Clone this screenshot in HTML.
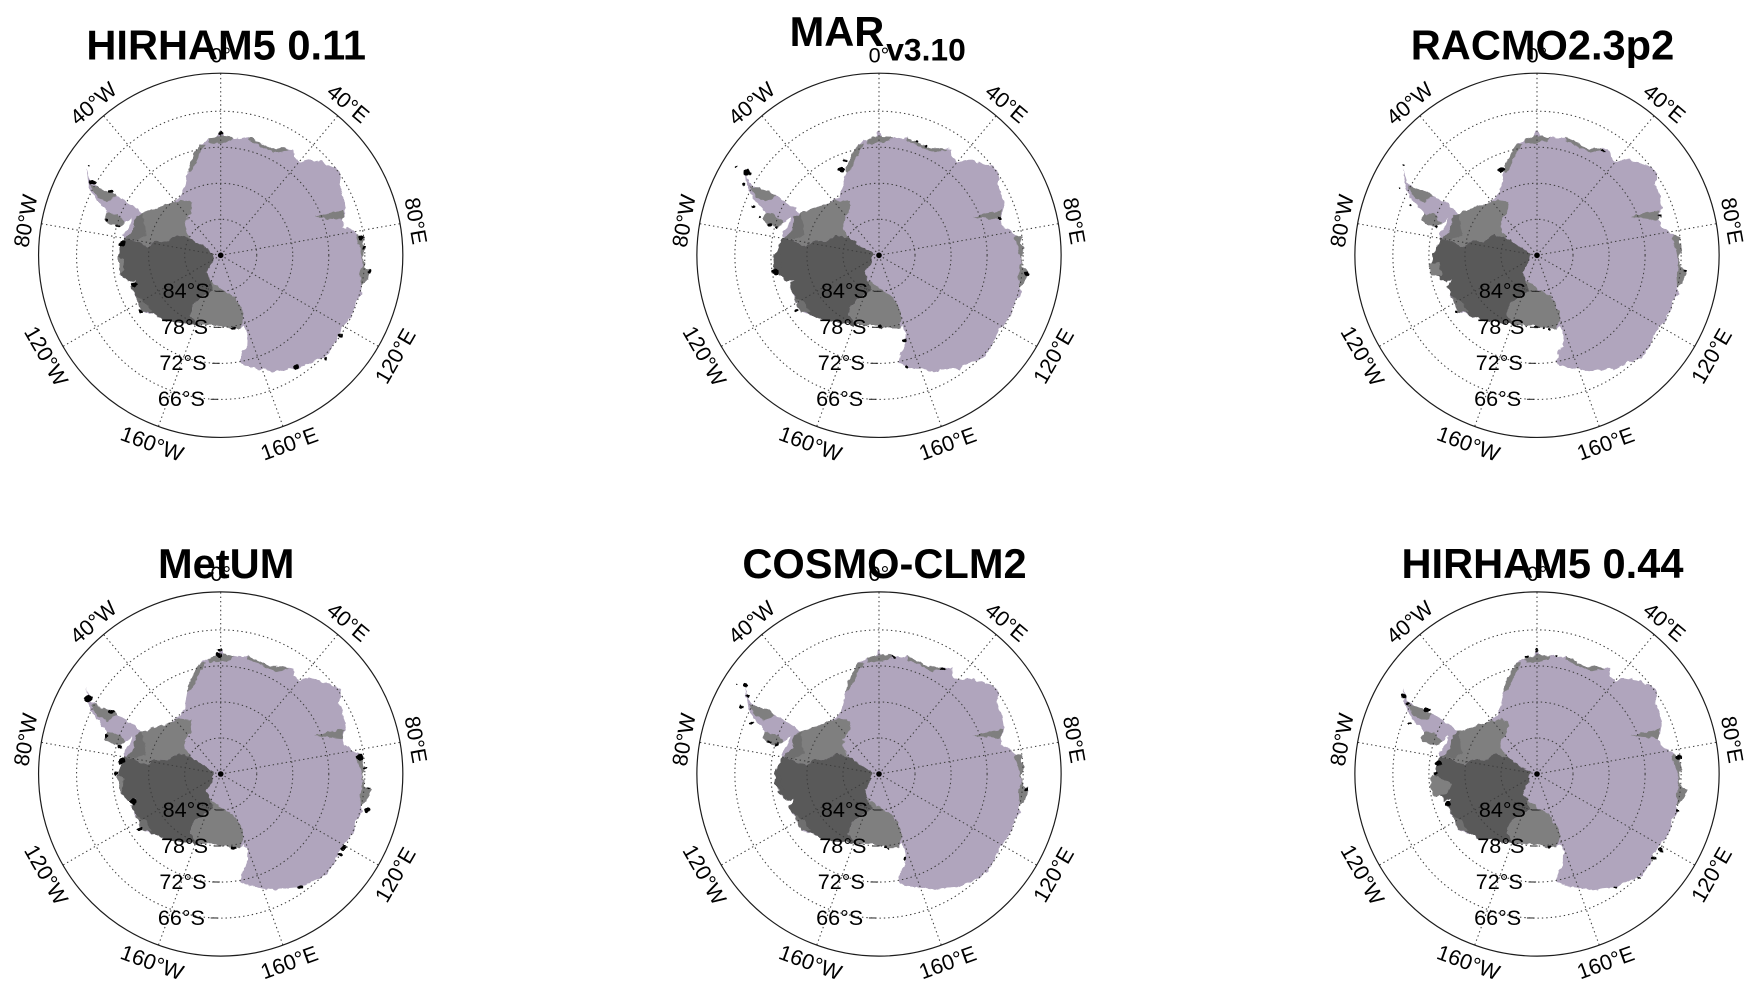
<!DOCTYPE html>
<html lang="en">
<head>
<meta charset="utf-8">
<title>Antarctic drainage basins by regional climate model</title>
<style>
html,body{margin:0;padding:0;background:#fff;width:1759px;height:994px;overflow:hidden}
svg{display:block}
text{font-family:"Liberation Sans",Arial,sans-serif;fill:#000}
.title{font-weight:bold;font-size:41.6px;text-anchor:middle}
.tick{font-size:21.6px}
.grid{fill:none;stroke:#3c3c3c;stroke-width:1.05;stroke-dasharray:1.4 3}
</style>
</head>
<body>
<svg id="chart" width="1759" height="994" viewBox="0 0 1759 994" xmlns="http://www.w3.org/2000/svg">
<defs>
<filter id="rough-coast" filterUnits="userSpaceOnUse" x="0" y="0" width="1759" height="994" color-interpolation-filters="sRGB">
<feTurbulence type="fractalNoise" baseFrequency="0.16" numOctaves="2" seed="7" result="noise"/>
<feDisplacementMap in="SourceGraphic" in2="noise" scale="5" xChannelSelector="R" yChannelSelector="G"/>
</filter>
</defs>
</svg>
<script>
// ---------- chart data ----------
const panelTitles = ["HIRHAM5 0.11", "MAR v3.10", "RACMO2.3p2", "MetUM", "COSMO-CLM2", "HIRHAM5 0.44"];
const latitudeTicks = [-84, -78, -72, -66];
const longitudeTicks = [0, 40, 80, 120, 160, -160, -120, -80, -40];
const outerLatitude = -59.67;

// Map-grid coordinates: x east, y north of the pole, 18 units per degree of arc
const continentOutline = [[-120,176],[-108,206],[-100,246],[-94,276],[-80,301],[-62,334],[-35,346],[-10,356],[0,376],[8,358],[40,354],[62,350],[85,354],[100,346],[125,334],[150,321],[190,321],[218,316],[220,296],[235,279],[265,288],[300,280],[330,269],[355,256],[360,236],[355,216],[368,176],[375,141],[365,106],[370,86],[390,76],[410,61],[430,54],[425,36],[435,16],[425,-4],[430,-34],[450,-49],[435,-84],[420,-94],[425,-114],[405,-139],[400,-169],[380,-199],[360,-224],[350,-244],[340,-269],[315,-304],[280,-319],[240,-339],[200,-342],[165,-349],[130,-342],[85,-336],[58,-322],[65,-289],[78,-274],[80,-234],[70,-209],[60,-219],[30,-219],[-20,-209],[-70,-209],[-120,-202],[-170,-194],[-200,-179],[-235,-169],[-245,-149],[-260,-114],[-270,-94],[-255,-74],[-275,-79],[-300,-59],[-308,-4],[-295,41],[-288,51],[-295,61],[-275,85],[-265,113],[-285,96],[-305,86],[-335,94],[-350,106],[-340,126],[-355,146],[-375,166],[-392,196],[-398,226],[-402,261],[-390,221],[-370,204],[-330,191],[-290,166],[-250,141],[-238,126],[-180,146],[-145,158]];
const filchnerRonneBasin = [[-255,116],[-238,126],[-180,146],[-145,158],[-120,166],[-85,161],[-90,126],[-108,101],[-105,76],[-90,51],[-130,61],[-160,41],[-195,44],[-220,26],[-265,46],[-285,51],[-260,76]];
const ronneInnerBasin = [[-255,116],[-235,125],[-228,90],[-225,60],[-255,45],[-285,51],[-260,76]];
const westAntarcticBasin = [[-288,51],[-265,46],[-220,26],[-195,44],[-160,41],[-130,61],[-90,51],[-60,31],[-20,6],[-25,-24],[-42,-49],[-35,-74],[-10,-94],[-20,-104],[-60,-129],[-85,-149],[-90,-179],[-70,-209],[-120,-202],[-170,-194],[-200,-179],[-220,-170],[-245,-135],[-260,-114],[-270,-94],[-255,-74],[-275,-79],[-300,-59],[-308,-4],[-295,41]];
const rossBasin = [[-35,-74],[0,-99],[40,-124],[65,-164],[68,-184],[60,-219],[30,-219],[-20,-209],[-70,-209],[-90,-179],[-85,-149],[-60,-129],[-20,-104]];
const marieByrdCoast = [[-255,-124],[-225,-140],[-205,-170],[-235,-169],[-245,-149]];
const dronningMaudCoast = [[-35,346],[-10,356],[8,358],[40,354],[30,343],[0,336],[-35,334]];
const enderbyCoast = [[85,354],[100,346],[125,334],[150,321],[190,321],[205,315],[160,308],[130,322],[105,335],[85,342]];
const coatsLandCoast = [[-62,334],[-80,301],[-94,276],[-100,246],[-90,250],[-75,278],[-60,310],[-45,334]];
const ameryBasin = [[280,116],[325,126],[370,135],[365,106],[325,110]];
const wilkesCoast = [[410,61],[430,54],[425,36],[435,16],[425,-4],[430,-34],[450,-49],[435,-84],[420,-94],[418,-60],[425,-20],[418,20],[405,50]];
const larsenCoast = [[-390,210],[-370,204],[-330,191],[-310,178],[-340,160],[-370,175]];
const georgeSixthCoast = [[-350,106],[-340,126],[-310,122],[-285,96],[-305,86],[-335,94]];

// Model-specific additions to the west coast
const westCoastDark = [
  [],
  [[-318,-5],[-315,-50],[-290,-62],[-295,30]],
  [[-300,30],[-312,5],[-315,-25],[-290,-30]],
  [],
  [[-305,20],[-314,0],[-312,-28],[-285,-50]],
  []
];
const westCoastGray = [
  [[-308,-4],[-290,-10],[-292,-50],[-300,-59]],
  [],
  [[-322,-25],[-318,-60],[-285,-62],[-295,-20]],
  [[-308,-4],[-290,-10],[-292,-50],[-300,-59]],
  [],
  [[-316,-3],[-321,-38],[-306,-68],[-266,-58],[-256,-28],[-296,-8]]
];
// Negative-anomaly spots for each model: x, y, extent in map-grid units
const spotsHirham011 = [[-385,218,6],[-330,194,5],[-295,36,6],[-260,-86,6],[0,366,4],[420,54,5],[430,21,4],[445,-49,4],[360,-239,5],[315,-309,3],[225,-334,5],[-240,-169,4],[40,-219,4],[-340,106,4],[-310,86,3],[-395,271,2]];
const spotsMar = [[-395,248,7],[-407,211,3],[-377,146,4],[-357,116,3],[-327,91,4],[-307,86,3],[-112,256,7],[-102,286,3],[363,111,4],[443,-54,5],[-312,-49,7],[-247,-164,4],[3,-214,5],[78,-254,4],[83,-334,3],[143,326,3],[113,341,3],[-429,266,2]];
const spotsRacmo = [[-106,256,6],[-411,201,2],[-381,151,3],[-301,86,3],[444,-49,3],[369,116,3],[199,313,3],[-1,-216,3],[19,-219,3],[39,-222,3],[-241,-169,3],[-400,270,2]];
const spotsMetum = [[-397,227,8],[-327,187,5],[-302,82,5],[-297,40,7],[-312,2,3],[-262,-83,6],[-242,-166,5],[-2,372,4],[-7,357,5],[418,50,7],[433,17,3],[438,-108,5],[443,-43,2],[368,-223,6],[358,-243,5],[238,-340,5],[38,-223,5],[-342,112,4]];
const spotsCosmo = [[-399,267,5],[-392,232,3],[-412,202,3],[-382,152,4],[-307,87,4],[-327,97,3],[443,-46,4],[23,-220,3],[193,314,4],[78,-253,3],[43,352,3],[-430,268,2]];
const spotsHirham044 = [[-401,232,5],[-386,212,3],[-331,192,6],[-381,152,3],[-296,32,6],[-306,2,4],[-266,-88,6],[-1,372,4],[-31,352,3],[59,354,3],[424,52,6],[424,-108,3],[369,-228,5],[349,-253,4],[309,-313,3],[234,-340,3],[39,-218,3]];
const panelSpots = [spotsHirham011, spotsMar, spotsRacmo, spotsMetum, spotsCosmo, spotsHirham044];

// ---------- layout ----------
const columnCenters = [220.7, 879, 1537];
const rowCenters = [255.3, 774];
const rowTitleBaselines = [59.3, 578];
const titleOffset = 5.5;
const pxPerDegree = 6.005;
const mapUnitsPerDegree = 18;
const spotScale = 1.6;
const latTickLongitude = -177.5;
const SVGNS = "http://www.w3.org/2000/svg";
const svg = document.getElementById("chart");

// ---------- axis functions ----------
function radiusOf(lat) { return (90 + lat) * pxPerDegree; }
function polar(cx, cy, lat, lon) {
  const r = radiusOf(lat), a = lon * Math.PI / 180;
  return [cx + r * Math.sin(a), cy - r * Math.cos(a)];
}
function mapX(cx, x) { return cx + x / mapUnitsPerDegree * pxPerDegree; }
function mapY(cy, y) { return cy - y / mapUnitsPerDegree * pxPerDegree; }
function pointsAttr(cx, cy, pts) {
  return pts.map(function (p) { return mapX(cx, p[0]).toFixed(1) + "," + mapY(cy, p[1]).toFixed(1); }).join(" ");
}
function make(tag, attrs, parent, content) {
  const el = document.createElementNS(SVGNS, tag);
  for (const k in attrs) el.setAttribute(k, attrs[k]);
  if (content !== undefined) el.textContent = content;
  parent.appendChild(el);
  return el;
}
function basin(parent, cx, cy, pts, fill, name) {
  if (!pts.length) return;
  const el = make("polygon", { points: pointsAttr(cx, cy, pts), fill: fill }, parent);
  
  
}
function lonLabel(lon) {
  if (lon === 0) return "0°";
  return Math.abs(lon) + "°" + (lon > 0 ? "E" : "W");
}

// ---------- drawing ----------
panelTitles.forEach(function (title, i) {
  const col = i % 3, row = Math.floor(i / 3);
  const cx = columnCenters[col], cy = rowCenters[row];
  const slug = title.toLowerCase().replace(/[^a-z0-9]+/g, "-");

  const g = make("g", {}, svg);
  
  

  if (title === "MAR v3.10") {
    const t1 = make("text", { class: "title", x: cx - 88 + 46, y: 45.8 }, g, "MAR");
    
    
    const t2 = make("text", { class: "title", x: cx + 47, y: 60.7, style: "font-size:31.8px" }, g, "v3.10");
    
    
  } else {
    const t = make("text", { class: "title", x: cx + titleOffset, y: rowTitleBaselines[row] }, g, title);
    
    
  }

  const map = make("g", { filter: "url(#rough-coast)" }, g);
  
  
  basin(map, cx, cy, continentOutline, "#b0a5bd", "east-antarctic-basin");
  basin(map, cx, cy, filchnerRonneBasin, "#7f7f7f", "filchner-ronne-basin");
  basin(map, cx, cy, ronneInnerBasin, "#6f6f6f", "ronne-inner-basin");
  basin(map, cx, cy, westAntarcticBasin, "#595959", "west-antarctic-basin");
  basin(map, cx, cy, rossBasin, "#7f7f7f", "ross-basin");
  basin(map, cx, cy, marieByrdCoast, "#6f6f6f", "marie-byrd-coast");
  basin(map, cx, cy, dronningMaudCoast, "#7f7f7f", "dronning-maud-coast");
  basin(map, cx, cy, enderbyCoast, "#7f7f7f", "enderby-coast");
  basin(map, cx, cy, coatsLandCoast, "#7f7f7f", "coats-land-coast");
  basin(map, cx, cy, ameryBasin, "#7f7f7f", "amery-basin");
  basin(map, cx, cy, wilkesCoast, "#7f7f7f", "wilkes-coast");
  basin(map, cx, cy, larsenCoast, "#7f7f7f", "larsen-coast");
  basin(map, cx, cy, georgeSixthCoast, "#7f7f7f", "george-vi-coast");
  basin(map, cx, cy, westCoastDark[i], "#595959", "west-coast-extension");
  basin(map, cx, cy, westCoastGray[i], "#7f7f7f", "west-coast-gray");

  panelSpots[i].forEach(function (s) {
    const spot = make("ellipse", {
      cx: mapX(cx, s[0]).toFixed(1),
      cy: mapY(cy, s[1]).toFixed(1),
      rx: (s[2] * spotScale / mapUnitsPerDegree * pxPerDegree).toFixed(2),
      ry: (s[2] * spotScale * 0.8 / mapUnitsPerDegree * pxPerDegree).toFixed(2),
      fill: "#000"
    }, map);
    
    
  });

  latitudeTicks.forEach(function (lat) {
    const ring = make("circle", { class: "grid", cx: cx, cy: cy, r: radiusOf(lat).toFixed(2) }, g);
    
    
  });

  longitudeTicks.forEach(function (lon) {
    const p = polar(cx, cy, outerLatitude, lon);
    const line = make("line", { class: "grid", x1: cx, y1: cy, x2: p[0].toFixed(2), y2: p[1].toFixed(2) }, g);
    
    
  });

  const pole = make("circle", { cx: cx, cy: cy, r: 2.8, fill: "#000" }, g);
  
  

  const frame = make("circle", { cx: cx, cy: cy, r: radiusOf(outerLatitude).toFixed(2), fill: "none", stroke: "#1c1c1c", "stroke-width": 1.2 }, g);
  
  

  latitudeTicks.forEach(function (lat) {
    const p = polar(cx, cy, lat, latTickLongitude);
    const dash = make("line", { x1: (p[0] - 3.8).toFixed(2), y1: p[1].toFixed(2), x2: (p[0] + 3.8).toFixed(2), y2: p[1].toFixed(2), stroke: "#222", "stroke-width": 1 }, g);
    
    
    const label = make("text", { class: "tick", x: (p[0] - 9.5).toFixed(2), y: (p[1] + 6.8).toFixed(2), "text-anchor": "end" }, g, Math.abs(lat) + "°S");
    
    
  });

  longitudeTicks.forEach(function (lon) {
    const extra = Math.abs(lon) === 120 ? 19 : (Math.abs(lon) === 160 ? 18 : (lon === 0 ? 18.5 : 16.5));
    const p = polar(cx, cy, outerLatitude, lon);
    const a = lon * Math.PI / 180;
    const lx = p[0] + extra * Math.sin(a), ly = p[1] - extra * Math.cos(a);
    const rot = Math.abs(lon) > 90 ? (lon > 0 ? lon - 180 : lon + 180) : lon;
    const label = make("text", { class: "tick", x: 0, y: 0, "text-anchor": "middle", dy: "0.36em",
      transform: "translate(" + lx.toFixed(2) + " " + ly.toFixed(2) + ") rotate(" + rot + ")" }, g, lonLabel(lon));
    
    
  });
});
</script>
</body>
</html>
